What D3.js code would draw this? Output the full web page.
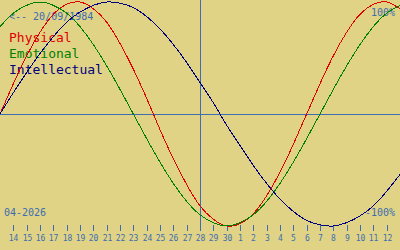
<html>
<head>
    <meta name="viewport" content="width=device-width, initial-scale=1">
    <script src="https://d3js.org/d3.v7.min.js"></script>
    <style type="text/css">
        body {
            margin: 0;
            background-color: #e0d386;
        }
        text {
            font-family: "DejaVu Sans Mono", monospace;
        }
    </style>
</head>
<body>
<div id="graph"></div>

<script>
  // day labels under the ticks (14 Apr .. 12 May 2026)
  const dayLabels = ['14','15','16','17','18','19','20','21','22','23','24','25','26','27','28',
                     '29','30','1','2','3','4','5','6','7','8','9','10','11','12'];
  const monthLabel = '04-2026';
  const birthLabel = '<-- 20/09/1984';
  const todayIndex = 14;   // 28 Apr, the vertical line

  // values in %, one per slot, first and last slot are the chart edges (13 Apr, 13 May)
  const physical = [0, 27, 52, 73, 89, 98, 100, 94, 82, 63, 40, 14, -14, -40, -63, -82,
                    -94, -100, -98, -89, -73, -52, -27, 0, 27, 52, 73, 89, 98, 100, 94];
  const emotional = [78, 90, 97, 100, 97, 90, 78, 62, 43, 22, 0, -22, -43, -62, -78, -90,
                     -97, -100, -97, -90, -78, -62, -43, -22, 0, 22, 43, 62, 78, 90, 97];
  const intellectual = [0, 19, 37, 54, 69, 82, 91, 97, 100, 99, 95, 87, 76, 62, 46, 28,
                        10, -10, -28, -46, -62, -76, -87, -95, -99, -100, -97, -91, -82, -69, -54];

  const seriesNames = ['Physical', 'Emotional', 'Intellectual'];
  const seriesColors = ['#e00000', '#008000', '#000080'];
  const axisColor = '#3d6db0';

  var width = 400, height = 250;

  var svg = d3.select('#graph')
    .append('svg')
    .attr('width', width)
    .attr('height', height);

  // slot -1 is the left edge, slot 29 the right edge
  var x = d3.scaleLinear().domain([-1, 29]).range([0, width]);
  var y = d3.scaleLinear().domain([-100, 100]).range([226, 2]);

  // zero line
  svg.append('line')
    .attr('x1', 0).attr('x2', width)
    .attr('y1', Math.round(y(0)) + 0.5).attr('y2', Math.round(y(0)) + 0.5)
    .attr('stroke', axisColor);

  // today line
  svg.append('line')
    .attr('x1', Math.round(x(todayIndex)) + 0.5).attr('x2', Math.round(x(todayIndex)) + 0.5)
    .attr('y1', 0).attr('y2', 231)
    .attr('stroke', axisColor);

  // ticks and day numbers
  var ticks = svg.append('g').selectAll('g')
    .data(dayLabels)
    .enter().append('g')
    .attr('transform', function (d, i) { return 'translate(' + (Math.round(x(i)) + 0.5) + ',0)'; });

  ticks.append('line')
    .attr('y1', 225).attr('y2', 231)
    .attr('stroke', axisColor);

  ticks.append('text')
    .attr('y', 241)
    .attr('text-anchor', 'middle')
    .attr('font-size', 8)
    .attr('fill', axisColor)
    .text(function (d) { return d; });

  // labels
  svg.append('text').attr('x', 9).attr('y', 20).attr('font-size', 10)
    .attr('fill', axisColor).text(birthLabel);
  svg.append('text').attr('x', 4).attr('y', 216).attr('font-size', 10)
    .attr('fill', axisColor).text(monthLabel);
  svg.append('text').attr('x', 395).attr('y', 16).attr('font-size', 10)
    .attr('text-anchor', 'end').attr('fill', axisColor).text('100%');
  svg.append('text').attr('x', 395).attr('y', 216).attr('font-size', 10)
    .attr('text-anchor', 'end').attr('fill', axisColor).text('-100%');

  svg.append('g').selectAll('text')
    .data(seriesNames)
    .enter().append('text')
    .attr('x', 9)
    .attr('y', function (d, i) { return 42 + i * 16; })
    .attr('font-size', 13)
    .attr('fill', function (d, i) { return seriesColors[i]; })
    .text(function (d) { return d; });

  // curves
  var line = d3.line()
    .x(function (d, i) { return x(i - 1); })
    .y(function (d) { return y(d); })
    .curve(d3.curveNatural);

  [physical, emotional, intellectual].forEach(function (s, k) {
    svg.append('path')
      .attr('d', line(s))
      .attr('fill', 'none')
      .attr('stroke', seriesColors[k])
      .attr('stroke-width', 1)
      .attr('shape-rendering', 'crispEdges');
  });
</script>
</body>
</html>
